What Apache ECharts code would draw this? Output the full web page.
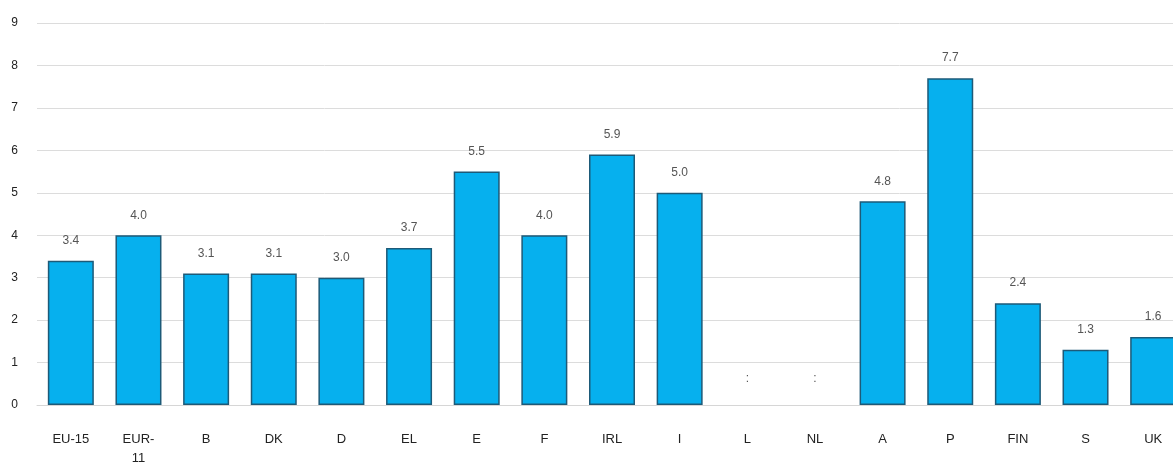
<!DOCTYPE html>
<html><head><meta charset="utf-8">
<script src="https://cdn.jsdelivr.net/npm/echarts@6/dist/echarts.min.js"></script>
<style>html,body{margin:0;padding:0;background:#fff;overflow:hidden;width:1173px;height:468px}#c{width:1187px;height:468px}</style>
</head><body><div id="c"></div>
<script>
const categories = ['EU-15','EUR-\n11','B','DK','D','EL','E','F','IRL','I','L','NL','A','P','FIN','S','UK'];
const values = [3.4,4.0,3.1,3.1,3.0,3.7,5.5,4.0,5.9,5.0,null,null,4.8,7.7,2.4,1.3,1.6];
const yTicks = [0,1,2,3,4,5,6,7,8,9];

const data = values.map(v => v === null
  ? {value: 0, label: {formatter: ':', offset: [0, -6]}, itemStyle: {borderWidth: 0}}
  : {value: v});

const chart = echarts.init(document.getElementById('c'));
chart.setOption({
  animation: false,
  grid: {left: 37, top: 23, right: 0, bottom: 63, containLabel: false},
  xAxis: {
    type: 'category', data: categories,
    axisLine: {show: true, lineStyle: {color: '#d6d6d6'}},
    axisTick: {show: false},
    axisLabel: {color: '#222', fontSize: 13, fontFamily: 'Liberation Sans, Arial', margin: 25, lineHeight: 19, interval: 0}
  },
  yAxis: {
    type: 'value', min: yTicks[0], max: yTicks[yTicks.length-1], interval: 1,
    axisLine: {show: false}, axisTick: {show: false},
    axisLabel: {color: '#222', fontSize: 12, fontFamily: 'Liberation Sans, Arial', margin: 19},
    splitLine: {lineStyle: {color: '#dcdcdc', width: 1}}
  },
  series: [{
    type: 'bar', data: data, barWidth: 46,
    itemStyle: {color: '#06b0ee', borderColor: '#1d5a78', borderWidth: 1.5},
    label: {show: true, position: 'top', distance: 14, color: '#555', fontSize: 12,
      fontFamily: 'Liberation Sans, Arial',
      formatter: p => p.value.toFixed(1)}
  }]
});
</script></body></html>
